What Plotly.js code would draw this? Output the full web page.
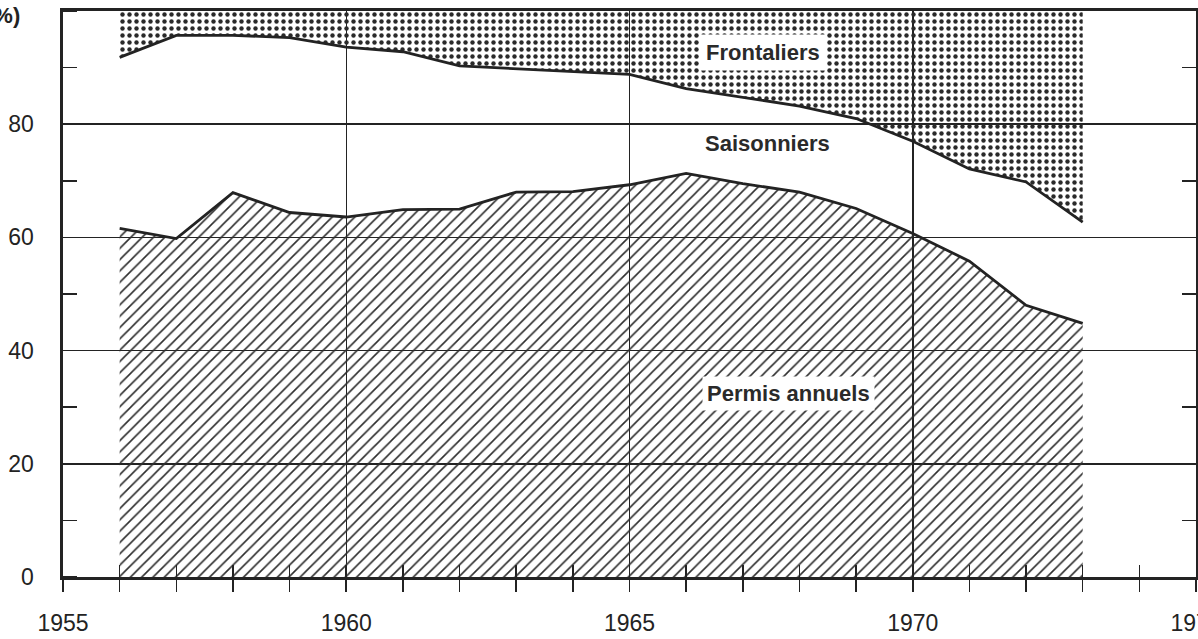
<!DOCTYPE html>
<html>
<head>
<meta charset="utf-8">
<script src="https://cdn.plot.ly/plotly-3.0.1.min.js"></script>
<style>
  html, body { margin: 0; padding: 0; background: #fff; overflow: hidden; }
  #chart { width: 1198px; height: 639px; }
</style>
</head>
<body>
<div id="chart"></div>
<script>
// Years shown
const years = [1956, 1957, 1958, 1959, 1960, 1961, 1962, 1963, 1964, 1965, 1966, 1967, 1968, 1969, 1970, 1971, 1972, 1973];
// Cumulative share (%) : upper edge of "Permis annuels"
const permisAnnuels = [61.6, 59.8, 67.9, 64.4, 63.6, 64.9, 65.0, 68.0, 68.1, 69.3, 71.3, 69.5, 68.0, 65.1, 60.7, 55.8, 48.0, 44.8];
// Cumulative share (%) : upper edge of "Permis annuels + Saisonniers"
const permisPlusSaisonniers = [91.8, 95.7, 95.7, 95.3, 93.6, 92.8, 90.3, 89.8, 89.3, 88.8, 86.3, 84.7, 83.2, 81.0, 77.0, 72.1, 69.8, 62.7];
// Total (%) : upper edge of "Frontaliers"
const totalPct = [100, 100, 100, 100, 100, 100, 100, 100, 100, 100, 100, 100, 100, 100, 100, 100, 100, 100];

const yTickVals = [0, 20, 40, 60, 80];
const yTickText = ['0', '20', '40', '60', '80'];
const areaLabels = ['Frontaliers', 'Saisonniers', 'Permis annuels'];
const yTitle = '(%)';

const ink = '#232323';
const tickFont = { family: 'Liberation Sans, Arial, sans-serif', size: 23, color: ink };
const labelFont = { family: 'Liberation Sans, Arial, sans-serif', size: 22, color: '#2a2a2a', weight: 'bold' };

const traces = [
  {
    x: years, y: permisAnnuels, type: 'scatter', mode: 'lines',
    line: { color: ink, width: 2.8 },
    fill: 'tozeroy', fillcolor: 'rgba(255,255,255,0)',
    fillpattern: { shape: '/', size: 8, solidity: 0.2, fgcolor: '#2e2e2e', bgcolor: 'rgba(255,255,255,0)' },
    hoverinfo: 'skip', showlegend: false
  },
  {
    x: years, y: permisPlusSaisonniers, type: 'scatter', mode: 'lines',
    line: { color: ink, width: 2.8 },
    fill: 'none',
    hoverinfo: 'skip', showlegend: false
  },
  {
    x: years, y: totalPct, type: 'scatter', mode: 'lines',
    line: { color: ink, width: 0 },
    fill: 'tonexty', fillcolor: 'rgba(255,255,255,0)',
    fillpattern: { shape: '.', size: 7, solidity: 0.32, fgcolor: '#2a2a2a', bgcolor: 'rgba(255,255,255,0)' },
    hoverinfo: 'skip', showlegend: false
  },
  {
    x: years, y: permisAnnuels, type: 'scatter', mode: 'lines',
    xaxis: 'x2', yaxis: 'y2',
    line: { width: 0 }, opacity: 0,
    hoverinfo: 'skip', showlegend: false
  }
];

const layout = {
  width: 1198, height: 639,
  margin: { l: 63, r: 2, t: 11, b: 62 },
  paper_bgcolor: '#fff', plot_bgcolor: '#fff',
  showlegend: false,
  xaxis: {
    range: [1955, 1975], tick0: 1955, dtick: 5, tickmode: 'linear',
    ticks: 'outside', ticklen: 12, tickwidth: 1.6, tickcolor: ink,
    minor: { dtick: 1, tick0: 1955, ticks: 'outside', ticklen: 12, tickwidth: 1.6, tickcolor: ink, showgrid: false },
    showgrid: true, gridcolor: ink, gridwidth: 1.5,
    showline: true, linecolor: ink, linewidth: 2.6, mirror: true,
    zeroline: false, tickfont: tickFont, ticklabelstandoff: 12,
    ticklabeloverflow: 'allow',
    fixedrange: true
  },
  xaxis2: {
    range: [1955, 1975], overlaying: 'x', anchor: 'y2', side: 'bottom',
    tick0: 1955, dtick: 1, tickmode: 'linear',
    ticks: 'inside', ticklen: 12, tickwidth: 1.6, tickcolor: ink,
    showticklabels: false, showgrid: false, showline: false, zeroline: false,
    fixedrange: true
  },
  yaxis: {
    range: [0, 100], tickmode: 'array', tickvals: yTickVals, ticktext: yTickText,
    ticks: '',
    minor: { tick0: 0, dtick: 10, ticks: 'inside', ticklen: 14, tickwidth: 1.6, tickcolor: ink, showgrid: false },
    showgrid: true, gridcolor: ink, gridwidth: 1.5,
    showline: true, linecolor: ink, linewidth: 2.6, mirror: true,
    zeroline: false, tickfont: tickFont, ticklabelstandoff: 22,
    fixedrange: true
  },
  yaxis2: {
    range: [0, 100], overlaying: 'y', anchor: 'x2', side: 'right',
    tick0: 0, dtick: 10, tickmode: 'linear',
    ticks: 'inside', ticklen: 14, tickwidth: 1.6, tickcolor: ink,
    showticklabels: false, showgrid: false, showline: false, zeroline: false,
    fixedrange: true
  },
  annotations: [
    { x: 1967.36, y: 92.7, xref: 'x', yref: 'y', text: areaLabels[0], showarrow: false,
      font: labelFont, bgcolor: '#fff', borderpad: 5 },
    { x: 1967.43, y: 76.6, xref: 'x', yref: 'y', text: areaLabels[1], showarrow: false,
      font: labelFont },
    { x: 1967.80, y: 32.4, xref: 'x', yref: 'y', text: areaLabels[2], showarrow: false,
      font: labelFont, bgcolor: '#fff', borderpad: 4 },
    { x: -0.0362, y: 0.992, xref: 'paper', yref: 'paper', xanchor: 'right', yanchor: 'middle',
      text: yTitle, showarrow: false, font: { family: 'Liberation Sans, Arial, sans-serif', size: 22, color: ink, weight: 'bold' } }
  ]
};

Plotly.newPlot('chart', traces, layout, { displayModeBar: false, staticPlot: true });
</script>
</body>
</html>
